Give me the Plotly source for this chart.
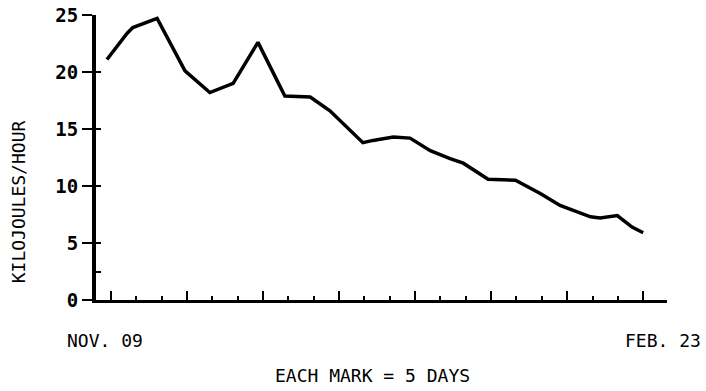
import plotly.graph_objects as go

# Days since Nov. 09 (each axis mark = 5 days) and energy values (kJ/hour)
days = [-0.8, 3.2, 4.3, 9.1, 14.6, 19.5, 24.1, 26.1, 29.0, 34.3, 39.3, 43.2,
        49.7, 51.7, 55.7, 59.0, 63.0, 66.9, 69.5, 74.4, 79.8, 84.7, 88.6,
        94.6, 96.5, 99.9, 102.8, 105.0]
kj = [21.1, 23.4, 23.9, 24.7, 20.1, 18.2, 19.0, 20.5, 22.6, 17.9, 17.8, 16.6,
      13.8, 14.0, 14.3, 14.2, 13.1, 12.4, 12.0, 10.6, 10.5, 9.35, 8.3,
      7.3, 7.2, 7.4, 6.4, 5.9]

y_ticks = [0, 5, 10, 15, 20, 25]
y_tick_labels = ["0", "5", "10", "15", "20", "25"]
y_inner_ticks = [2.5, 5, 10, 15, 20, 25]

start_label = "NOV. 09"
end_label = "FEB. 23"
x_note = "EACH MARK = 5 DAYS"
y_title = "KILOJOULES/HOUR"

MONO = "DejaVu Sans Mono"

fig = go.Figure()
fig.add_trace(go.Scatter(
    x=days, y=kj, mode="lines",
    line=dict(color="black", width=3.5),
    showlegend=False, hoverinfo="skip"))
fig.add_trace(go.Scatter(
    x=days, y=kj, mode="lines", yaxis="y2",
    line=dict(color="rgba(0,0,0,0)", width=0),
    showlegend=False, hoverinfo="skip"))

fig.update_layout(
    width=706, height=391,
    margin=dict(l=96, r=39, t=15, b=91),
    paper_bgcolor="white", plot_bgcolor="white",
    xaxis=dict(
        range=[-2.96, 109.7], showgrid=False, zeroline=False, automargin=False,
        showline=True, linecolor="black", linewidth=3,
        tick0=0, dtick=15, ticks="inside", ticklen=9, tickwidth=2,
        tickcolor="black", showticklabels=False,
        minor=dict(tick0=0, dtick=5, ticks="inside", ticklen=4,
                   tickwidth=2, tickcolor="black"),
    ),
    yaxis=dict(
        range=[0, 25], showgrid=False, zeroline=False, automargin=False,
        showline=True, linecolor="black", linewidth=4,
        tickvals=y_ticks, ticktext=y_tick_labels, ticklabeloverflow="allow",
        ticks="outside", ticklen=10, tickwidth=2, tickcolor="black",
        tickfont=dict(family=MONO, size=19, color="black", weight="bold"),
    ),
    yaxis2=dict(
        range=[0, 25], overlaying="y", side="left", showgrid=False,
        zeroline=False, showline=False, tickvals=y_inner_ticks, automargin=False,
        ticks="inside", ticklen=5, tickwidth=2, tickcolor="black",
        showticklabels=False,
    ),
    annotations=[
        dict(text=start_label, xref="paper", yref="paper",
             x=-0.054, y=-0.143, xanchor="left", yanchor="middle",
             showarrow=False, font=dict(family=MONO, size=18, color="black")),
        dict(text=end_label, xref="paper", yref="paper",
             x=1.063, y=-0.143, xanchor="right", yanchor="middle",
             showarrow=False, font=dict(family=MONO, size=18, color="black")),
        dict(text=x_note, xref="paper", yref="paper",
             x=0.484, y=-0.264, xanchor="center", yanchor="middle",
             showarrow=False, font=dict(family=MONO, size=18, color="black")),
        dict(text=y_title, xref="paper", yref="paper",
             x=-0.1366, y=0.343, xanchor="center", yanchor="middle",
             textangle=-90, showarrow=False,
             font=dict(family=MONO, size=18, color="black")),
    ],
)

fig.write_html("out.html", config={"displayModeBar": False},
               post_script="document.body.style.margin='0';")
